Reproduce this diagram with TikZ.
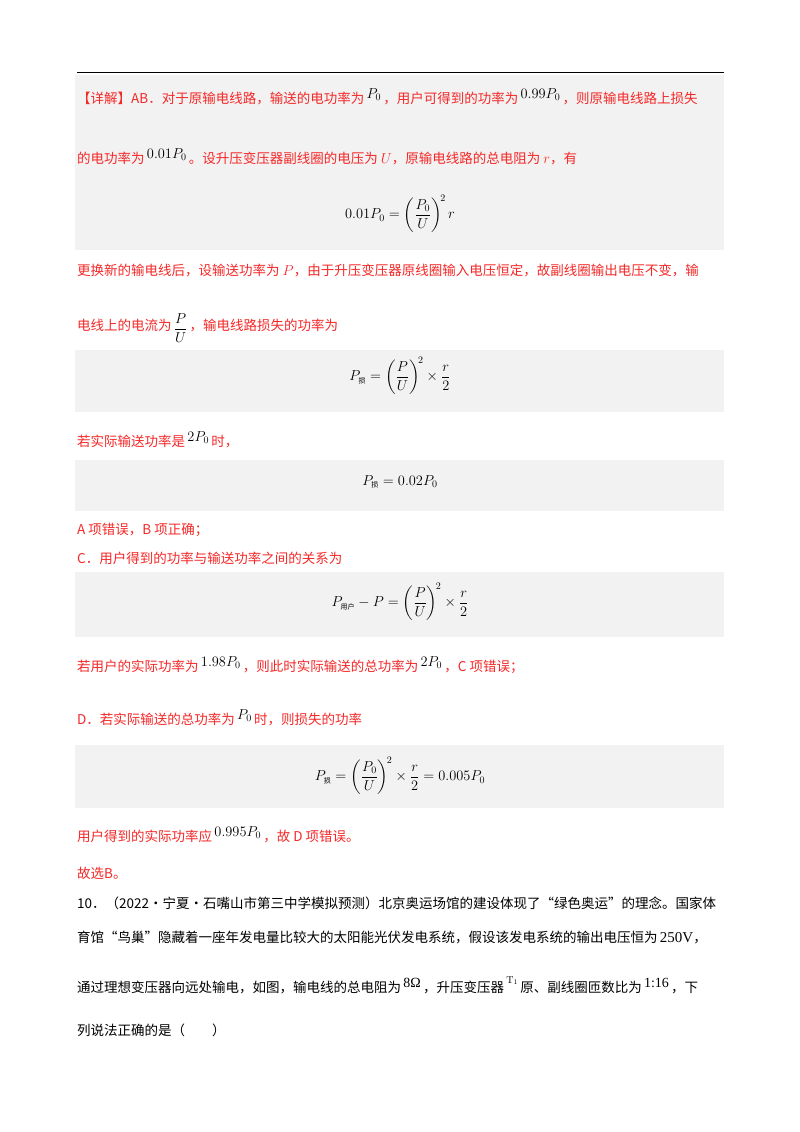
\documentclass[tikz,border=0pt]{standalone}
\usepackage{amsmath}
\usepackage{fontspec}
\newfontfamily\cjk{Noto Sans CJK SC}
\newfontfamily\tms{Liberation Serif}
\definecolor{rd}{RGB}{245,40,40}
\definecolor{gb}{RGB}{242,242,242}
\tikzset{t/.style={anchor=west,inner sep=0pt,font=\cjk\fontsize{13.5}{16}\selectfont},
 r/.style={t,text=rd}, eq/.style={inner sep=0pt,font=\fontsize{14}{16}\selectfont}}
\newcommand{\sbc}[1]{_{\text{\cjk\fontsize{7}{8}\selectfont #1}}}
\newcommand{\up}[2][5pt]{\,\raisebox{#1}{\fontsize{14}{16}\selectfont\color{black}#2}\,}
\begin{document}
\begin{tikzpicture}[x=1pt,y=-1pt]
\useasboundingbox (0,0) rectangle (800,1132);
\fill[white] (0,0) rectangle (800,1132);
\draw[line width=0.8pt] (77,72) coordinate (ra) -- (724,72) coordinate (rb);
\fill[gb] (75,75) rectangle (724,250);
\fill[gb] (75,350) rectangle (724,412);
\fill[gb] (75,460) rectangle (724,511);
\fill[gb] (75,572) rectangle (724,637);
\fill[gb] (75,745) rectangle (724,808);
\node[r] (l1) at (77,97) {【详解】AB．对于原输电线路，输送的电功率为\up{$P_0$}，用户可得到的功率为\up{$0.99P_0$}，则原输电线路上损失};
\node[r] (l2) at (77,157) {的电功率为\up{$0.01P_0$}。设升压变压器副线圈的电压为 $U$，原输电线路的总电阻为 $r$，有};
\node[eq] (e1) at (400,214) {$0.01P_0=\left(\dfrac{P_0}{U}\right)^{\!2} r$};
\node[r] (l3) at (77,270) {更换新的输电线后，设输送功率为 $P$，由于升压变压器原线圈输入电压恒定，故副线圈输出电压不变，输};
\node[r] (l4) at (77,328) {电线上的电流为\up[-2pt]{$\dfrac{P}{U}$}，输电线路损失的功率为};
\node[eq] (e2) at (400,376) {$P\sbc{损}=\left(\dfrac{P}{U}\right)^{\!2}\times\dfrac{r}{2}$};
\node[r] (l5) at (77,440) {若实际输送功率是\up{$2P_0$}时，};
\node[eq] (e3) at (400,482) {$P\sbc{损}=0.02P_0$};
\node[r] (l6) at (77,530) {A 项错误，B 项正确；};
\node[r] (l7) at (77,558) {C．用户得到的功率与输送功率之间的关系为};
\node[eq] (e4) at (400,602) {$P\sbc{用户}-P=\left(\dfrac{P}{U}\right)^{\!2}\times\dfrac{r}{2}$};
\node[r] (l8) at (77,665) {若用户的实际功率为\up{$1.98P_0$}，则此时实际输送的总功率为\up{$2P_0$}，C 项错误；};
\node[r] (l9) at (77,718) {D．若实际输送的总功率为\up{$P_0$}时，则损失的功率};
\node[eq] (e5) at (400,776) {$P\sbc{损}=\left(\dfrac{P_0}{U}\right)^{\!2}\times\dfrac{r}{2}=0.005P_0$};
\node[r] (l10) at (77,835) {用户得到的实际功率应\up{$0.995P_0$}，故 D 项错误。};
\node[r] (l11) at (77,873) {故选B。};
\node[t] (m1) at (77,903) {10．（2022·宁夏·石嘴山市第三中学模拟预测）北京奥运场馆的建设体现了“绿色奥运”的理念。国家体};
\node[t] (m2) at (77,937) {育馆“鸟巢”隐藏着一座年发电量比较大的太阳能光伏发电系统，假设该发电系统的输出电压恒为\,{\tms\fontsize{15}{16}\selectfont 250V}，};
\node[t] (m3) at (77,985) {通过理想变压器向远处输电，如图，输电线的总电阻为\up{\tms 8Ω}，升压变压器\up[9pt]{\fontsize{10}{10}\selectfont$\mathrm{T}_1$}原、副线圈匝数比为\up{\tms 1:16}，下};
\node[t] (m4) at (77,1030) {列说法正确的是（\quad\quad）};
\end{tikzpicture}
\end{document}
